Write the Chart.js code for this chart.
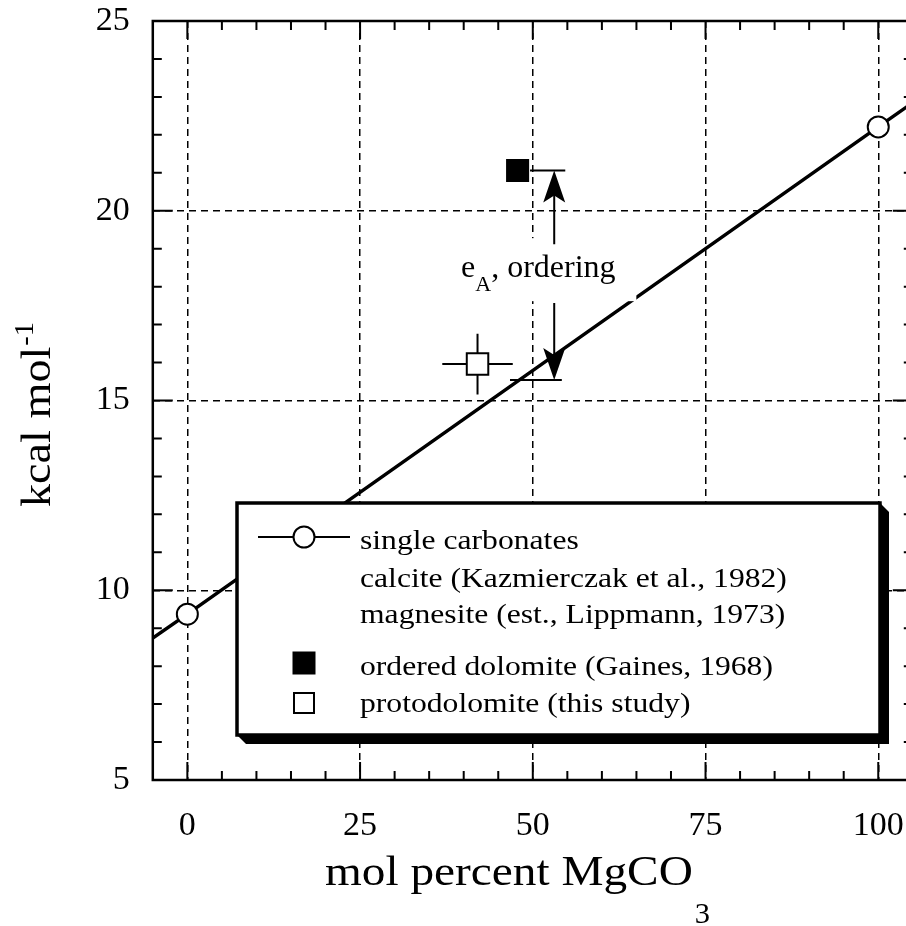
<!DOCTYPE html>
<html><head><meta charset="utf-8">
<script src="https://cdn.jsdelivr.net/npm/chart.js@4.4.1/dist/chart.umd.min.js"></script>
<style>
html,body{margin:0;padding:0;background:#fff;overflow:hidden;width:906px;height:926px;}
#c{position:absolute;left:0;top:0;}
</style></head><body>
<canvas id="c" width="916" height="926"></canvas>
<script>
// ---- data ----
const xTickLabels = [0, 25, 50, 75, 100];
const yTickLabels = [5, 10, 15, 20, 25];
const singleX = [-5, 0, 100, 105];
const singleY = [8.74, 9.37, 22.21, 22.85];
const singleMarkerShown = [false, true, true, false];
const orderedX = [47.8];
const orderedY = [21.06];
const protoX = [42.0];
const protoY = [15.96];
const protoXErr = [5.1];
const protoYErr = [0.8];
// e_A ordering annotation (data units)
const arrowX = 53.1;
const arrowTopY = 21.06, arrowTopTail = 19.12;
const arrowBotY = 15.54, arrowBotTail = 17.57;
const topBarX = [49.6, 54.7];
const botBarX = [46.7, 54.2];
const labelX = 50.8, labelY = 18.25;
const legendLines = [
  'single carbonates',
  'calcite (Kazmierczak et al., 1982)',
  'magnesite (est., Lippmann, 1973)',
  'ordered dolomite (Gaines, 1968)',
  'protodolomite (this study)'
];

const SERIF = "'Liberation Serif','Times New Roman',serif";

function sText(ctx, txt, x, y, size, sx, align) {
  ctx.save();
  ctx.font = size + 'px ' + SERIF;
  ctx.fillStyle = '#000';
  ctx.textBaseline = 'alphabetic';
  ctx.textAlign = align || 'left';
  ctx.translate(x, y);
  ctx.scale(sx, 1);
  ctx.fillText(txt, 0, 0);
  const w = ctx.measureText(txt).width * sx;
  ctx.restore();
  return w;
}

function arrowHead(ctx, x, y, dir) { // dir -1 = pointing up, +1 = pointing down
  ctx.beginPath();
  ctx.moveTo(x, y);
  ctx.lineTo(x - 11, y - dir * 32);
  ctx.lineTo(x, y - dir * 25);
  ctx.lineTo(x + 11, y - dir * 32);
  ctx.closePath();
  ctx.fill();
}

const decor = {
  id: 'decor',
  beforeDatasetsDraw(chart) {
    const {ctx, scales: {x, y}} = chart;
    ctx.save();
    ctx.strokeStyle = '#000';
    ctx.lineWidth = 2;
    for (let i = 0; i < protoX.length; i++) {
      const px = x.getPixelForValue(protoX[i]);
      const py = y.getPixelForValue(protoY[i]);
      ctx.beginPath();
      ctx.moveTo(x.getPixelForValue(protoX[i] - protoXErr[i]), py);
      ctx.lineTo(x.getPixelForValue(protoX[i] + protoXErr[i]), py);
      ctx.moveTo(px, y.getPixelForValue(protoY[i] - protoYErr[i]));
      ctx.lineTo(px, y.getPixelForValue(protoY[i] + protoYErr[i]));
      ctx.stroke();
    }
    ctx.restore();
  },
  afterDatasetsDraw(chart) {
    const {ctx, chartArea: ca, scales: {x, y}} = chart;
    ctx.save();
    // annotation label with white backing
    const lx = x.getPixelForValue(labelX), ly = y.getPixelForValue(labelY);
    ctx.fillStyle = '#fff';
    ctx.fillRect(lx - 90, ly - 39, 188, 63);
    ctx.fillStyle = '#000';
    ctx.font = '32px ' + SERIF;
    const wE = ctx.measureText('e').width;
    ctx.font = '22px ' + SERIF;
    const wA = ctx.measureText('A').width;
    ctx.font = '32px ' + SERIF;
    const wRest = ctx.measureText(', ordering').width;
    const total = wE + wA + wRest;
    const sx0 = lx - total / 2;
    sText(ctx, 'e', sx0, ly, 32, 1);
    sText(ctx, 'A', sx0 + wE, ly + 14, 22, 1);
    sText(ctx, ', ordering', sx0 + wE + wA, ly, 32, 1);

    // arrows
    ctx.strokeStyle = '#000';
    ctx.fillStyle = '#000';
    ctx.lineWidth = 2;
    const ax = x.getPixelForValue(arrowX);
    const yT = y.getPixelForValue(arrowTopY), yTt = y.getPixelForValue(arrowTopTail);
    const yB = y.getPixelForValue(arrowBotY), yBt = y.getPixelForValue(arrowBotTail);
    ctx.beginPath();
    ctx.moveTo(x.getPixelForValue(topBarX[0]), yT);
    ctx.lineTo(x.getPixelForValue(topBarX[1]), yT);
    ctx.moveTo(x.getPixelForValue(botBarX[0]), yB);
    ctx.lineTo(x.getPixelForValue(botBarX[1]), yB);
    ctx.moveTo(ax, yT + 20); ctx.lineTo(ax, yTt);
    ctx.moveTo(ax, yBt); ctx.lineTo(ax, yB - 20);
    ctx.stroke();
    arrowHead(ctx, ax, yT, -1);
    arrowHead(ctx, ax, yB, 1);

    // frame
    ctx.lineWidth = 2.5;
    ctx.strokeRect(ca.left, ca.top, ca.right - ca.left, ca.bottom - ca.top);
    // inward tick marks
    ctx.lineWidth = 2;
    ctx.beginPath();
    x.ticks.forEach(t => {
      if (t.value <= x.min || t.value >= x.max) return;
      const p = x.getPixelForValue(t.value);
      const L = (t.value % 25 === 0) ? 18 : 9;
      ctx.moveTo(p, ca.bottom); ctx.lineTo(p, ca.bottom - L);
      ctx.moveTo(p, ca.top); ctx.lineTo(p, ca.top + L);
    });
    y.ticks.forEach(t => {
      if (t.value <= y.min || t.value >= y.max) return;
      const p = y.getPixelForValue(t.value);
      const L = (t.value % 5 === 0) ? 20 : 9;
      ctx.moveTo(ca.left, p); ctx.lineTo(ca.left + L, p);
      ctx.moveTo(ca.right, p); ctx.lineTo(ca.right - L, p);
    });
    ctx.stroke();

    // legend box with drop shadow
    const L0 = 237, T0 = 503, R0 = 880, B0 = 735, S = 9;
    ctx.beginPath();
    ctx.moveTo(L0, B0); ctx.lineTo(L0 + S, B0 + S); ctx.lineTo(R0 + S, B0 + S);
    ctx.lineTo(R0 + S, T0 + S); ctx.lineTo(R0, T0); ctx.lineTo(L0, T0); ctx.closePath();
    ctx.fill();
    ctx.fillStyle = '#fff';
    ctx.fillRect(L0, T0, R0 - L0, B0 - T0);
    ctx.lineWidth = 3.5;
    ctx.strokeRect(L0, T0, R0 - L0, B0 - T0);
    // legend symbols
    ctx.lineWidth = 2;
    ctx.beginPath(); ctx.moveTo(258, 537); ctx.lineTo(350, 537); ctx.stroke();
    ctx.beginPath(); ctx.arc(304, 537, 10.5, 0, Math.PI * 2);
    ctx.fillStyle = '#fff'; ctx.fill(); ctx.stroke();
    ctx.fillStyle = '#000';
    ctx.fillRect(292.5, 651.5, 23, 23);
    ctx.strokeRect(294, 693, 20, 20);
    const base = [549, 587, 623, 675, 712];
    legendLines.forEach((t, i) => sText(ctx, t, 360, base[i], 28, 1.13));
    ctx.restore();
  },
  afterDraw(chart) {
    const {ctx} = chart;
    ctx.save();
    // x title
    const w = sText(ctx, 'mol percent MgCO', 325, 885, 43, 1.1);
    sText(ctx, '3', 325 + w + 2, 923, 29, 1.05);
    // y title rotated
    ctx.translate(50, 507);
    ctx.rotate(-Math.PI / 2);
    const w2 = sText(ctx, 'kcal mol', 0, 0, 42, 1.1);
    sText(ctx, '-1', w2 + 1, -17, 27, 1.05);
    ctx.restore();
  }
};

const chart = new Chart(document.getElementById('c'), {
  type: 'scatter',
  data: {
    datasets: [
      {
        label: 'single carbonates',
        data: singleX.map((v, i) => ({x: v, y: singleY[i]})),
        showLine: true,
        borderColor: '#000',
        borderWidth: 3.5,
        pointRadius: singleMarkerShown.map(s => s ? 10.5 : 0),
        pointBackgroundColor: '#fff',
        pointBorderColor: '#000',
        pointBorderWidth: 2,
        pointStyle: 'circle'
      },
      {
        label: 'ordered dolomite (Gaines, 1968)',
        data: orderedX.map((v, i) => ({x: v, y: orderedY[i]})),
        pointStyle: 'rect',
        pointRadius: 16.3,
        pointBackgroundColor: '#000',
        pointBorderColor: '#000',
        pointBorderWidth: 0
      },
      {
        label: 'protodolomite (this study)',
        data: protoX.map((v, i) => ({x: v, y: protoY[i]})),
        pointStyle: 'rect',
        pointRadius: 15.2,
        pointBackgroundColor: '#fff',
        pointBorderColor: '#000',
        pointBorderWidth: 2
      }
    ]
  },
  options: {
    responsive: false,
    devicePixelRatio: 1,
    animation: false,
    events: [],
    layout: {autoPadding: false, padding: {top: 21, right: 3.2, left: 0, bottom: 0}},
    plugins: {legend: {display: false}, tooltip: {enabled: false}},
    scales: {
      x: {
        type: 'linear', min: -5, max: 105,
        afterFit(s) { s.height = 146; s.paddingLeft = 0; s.paddingRight = 0; },
        ticks: {
          stepSize: 5, autoSkip: false, maxRotation: 0, padding: 26,
          color: '#000', font: {family: SERIF, size: 34},
          callback: v => xTickLabels.includes(v) ? String(v) : ''
        },
        grid: {
          drawTicks: false, lineWidth: 1.5,
          color: c => (c.tick && xTickLabels.includes(c.tick.value)) ? '#000' : 'rgba(0,0,0,0)'
        },
        border: {display: false, dash: [7, 5]}
      },
      y: {
        type: 'linear', min: 5, max: 25,
        afterFit(s) { s.width = 152.8; s.paddingTop = 0; s.paddingBottom = 0; },
        ticks: {
          stepSize: 1, autoSkip: false, padding: 23,
          color: '#000', font: {family: SERIF, size: 34},
          callback: v => yTickLabels.includes(v) ? String(v) : ''
        },
        grid: {
          drawTicks: false, lineWidth: 1.5,
          color: c => (c.tick && c.tick.value > 5 && c.tick.value < 25 && yTickLabels.includes(c.tick.value)) ? '#000' : 'rgba(0,0,0,0)'
        },
        border: {display: false, dash: [7, 5]}
      }
    }
  },
  plugins: [decor]
});
</script>
</body></html>
